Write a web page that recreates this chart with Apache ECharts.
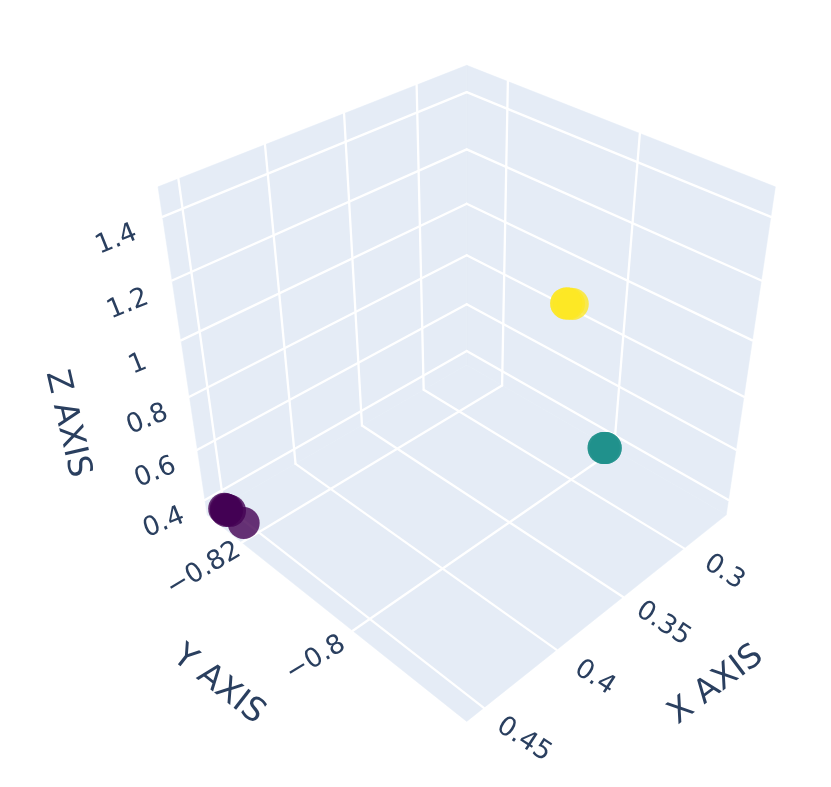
<!DOCTYPE html>
<html>
<head>
<meta charset="utf-8">
<style>html,body{margin:0;padding:0;background:#fff}#c{width:831px;height:787px}</style>
<script src="https://cdn.jsdelivr.net/npm/echarts@6/dist/echarts.min.js"></script>
</head>
<body>
<div id="c"></div>
<script>
// ---- values ----
const xRange = [0.2629, 0.4611];
const yRange = [-0.8269, -0.7823];
const zRange = [0.338, 1.49];
const xTicks = [0.3, 0.35, 0.4, 0.45];
const yTicks = [-0.82, -0.8];
const zTicks = [0.4, 0.6, 0.8, 1, 1.2, 1.4];
const xTickLabels = ['0.3', '0.35', '0.4', '0.45'];
const yTickLabels = ['\u22120.82', '\u22120.8'];
const zTickLabels = ['0.4', '0.6', '0.8', '1', '1.2', '1.4'];

const purpleX = [0.4553, 0.4558, 0.4555, 0.4551, 0.4546, 0.4561];
const purpleY = [-0.8211, -0.8248, -0.8246, -0.8244, -0.8240, -0.8243];
const purpleZ = [0.378, 0.378, 0.378, 0.378, 0.378, 0.378];
const tealX = [0.2733, 0.2725, 0.2733, 0.2725];
const tealY = [-0.7999, -0.7997, -0.7999, -0.7997];
const tealZ = [0.383, 0.383, 0.383, 0.383];
const yellowX = [0.3933, 0.3926, 0.3918, 0.3933];
const yellowY = [-0.7847, -0.7845, -0.7842, -0.7847];
const yellowZ = [1.44, 1.44, 1.44, 1.44];

// ---- camera and layout ----
const W = 831, H = 787;
const cam = { cx: 466.7, cy: 365, f: 1332, d: 6.68 };
const S2 = Math.SQRT2, S3 = Math.sqrt(3), S6 = Math.sqrt(6);
const FG = '#2a3f5f', PANE = '#e5ecf6', FONT = '"DejaVu Sans", sans-serif';
const xOff = [[40, 24], [40, 27], [38, 28], [40, 32]];
const yOff = [[-38, 27], [-37, 28]];
const zOff = [[-41, 23], [-42, 23], [-42, 23], [-43, 24], [-44, 24], [-46, 23]];
const tickFont = 26.5, titleFont = 33;
const tickAngle = { x: -33, y: 31, z: 22 };
const titles = [
  { text: 'X AXIS', pos: [716, 685], angle: 37 },
  { text: 'Y AXIS', pos: [218.5, 685], angle: -38 },
  { text: 'Z AXIS', pos: [67, 424], angle: -77 }
];

const nrm = (v, r) => -1 + 2 * (v - r[0]) / (r[1] - r[0]);
function projectUnit(u, v, w) {
  const a = (v - u) / S2, b = (2 * w - u - v) / S6, c = (u + v + w) / S3;
  const q = cam.d - c;
  return [cam.cx + cam.f * a / q, cam.cy - cam.f * b / q];
}
const project = (x, y, z) => projectUnit(nrm(x, xRange), nrm(y, yRange), nrm(z, zRange));

// panes: floor and the two far walls
const panes = [
  [[-1, -1, -1], [1, -1, -1], [1, 1, -1], [-1, 1, -1]],
  [[-1, -1, -1], [1, -1, -1], [1, -1, 1], [-1, -1, 1]],
  [[-1, -1, -1], [-1, 1, -1], [-1, 1, 1], [-1, -1, 1]]
].map(p => p.map(c => projectUnit(c[0], c[1], c[2])));

// grid segments
const seg = [];
xTicks.forEach(t => {
  const u = nrm(t, xRange);
  seg.push([projectUnit(u, -1, -1), projectUnit(u, -1, 1)]);
  seg.push([projectUnit(u, -1, -1), projectUnit(u, 1, -1)]);
});
yTicks.forEach(t => {
  const v = nrm(t, yRange);
  seg.push([projectUnit(-1, v, -1), projectUnit(-1, v, 1)]);
  seg.push([projectUnit(-1, v, -1), projectUnit(1, v, -1)]);
});
zTicks.forEach(t => {
  const w = nrm(t, zRange);
  seg.push([projectUnit(1, -1, w), projectUnit(-1, -1, w)]);
  seg.push([projectUnit(-1, -1, w), projectUnit(-1, 1, w)]);
});

// text items
const texts = [];
const addTick = (text, p, off, angle) => texts.push({ text, pos: [p[0] + off[0], p[1] + off[1]], angle, size: tickFont });
xTicks.forEach((t, i) => addTick(xTickLabels[i], project(t, yRange[1], zRange[0]), xOff[i], tickAngle.x));
yTicks.forEach((t, i) => addTick(yTickLabels[i], project(xRange[1], t, zRange[0]), yOff[i], tickAngle.y));
zTicks.forEach((t, i) => addTick(zTickLabels[i], project(xRange[1], yRange[0], t), zOff[i], tickAngle.z));
titles.forEach(t => texts.push({ text: t.text, pos: t.pos, angle: t.angle, size: titleFont }));

const points = (xs, ys, zs) => xs.map((x, i) => project(x, ys[i], zs[i]));
const marker = (name, color, data) => ({
  type: 'scatter', name, data, symbol: 'circle', symbolSize: 32, z: 5, silent: true, clip: false,
  itemStyle: { color, opacity: 0.8, borderWidth: 0 }
});

const chart = echarts.init(document.getElementById('c'), null, { renderer: 'canvas' });
chart.setOption({
  animation: false,
  backgroundColor: '#fff',
  grid: { left: 0, right: 0, top: 0, bottom: 0 },
  xAxis: { type: 'value', min: 0, max: W, show: false },
  yAxis: { type: 'value', min: 0, max: H, inverse: true, show: false },
  series: [
    {
      type: 'custom', z: 1, silent: true, clip: false, data: panes.map((_, i) => [i]), coordinateSystem: 'cartesian2d',
      encode: { x: 0, y: 0 },
      renderItem: (p, api) => ({
        type: 'polygon',
        shape: { points: panes[p.dataIndex].map(c => api.coord(c)) },
        style: { fill: PANE, stroke: PANE, lineWidth: 0.5 }
      })
    },
    {
      type: 'custom', z: 2, silent: true, clip: false, data: seg.map((_, i) => [i]),
      encode: { x: 0, y: 0 },
      renderItem: (p, api) => {
        const s = seg[p.dataIndex], a = api.coord(s[0]), b = api.coord(s[1]);
        return { type: 'line', shape: { x1: a[0], y1: a[1], x2: b[0], y2: b[1] }, style: { stroke: '#fff', lineWidth: 2.3, lineCap: 'round' } };
      }
    },
    marker('cluster 0', '#440154', points(purpleX, purpleY, purpleZ)),
    marker('cluster 1', '#21918c', points(tealX, tealY, tealZ)),
    marker('cluster 2', '#fde725', points(yellowX, yellowY, yellowZ)),
    {
      type: 'custom', z: 6, silent: true, clip: false, data: texts.map((_, i) => [i]),
      encode: { x: 0, y: 0 },
      renderItem: (p, api) => {
        const t = texts[p.dataIndex], c = api.coord(t.pos);
        return {
          type: 'text', x: c[0], y: c[1], rotation: t.angle * Math.PI / 180,
          style: { text: t.text, x: 0, y: 0, align: 'center', verticalAlign: 'middle', fill: FG, font: t.size + 'px ' + FONT }
        };
      }
    }
  ]
});
</script>
</body>
</html>
